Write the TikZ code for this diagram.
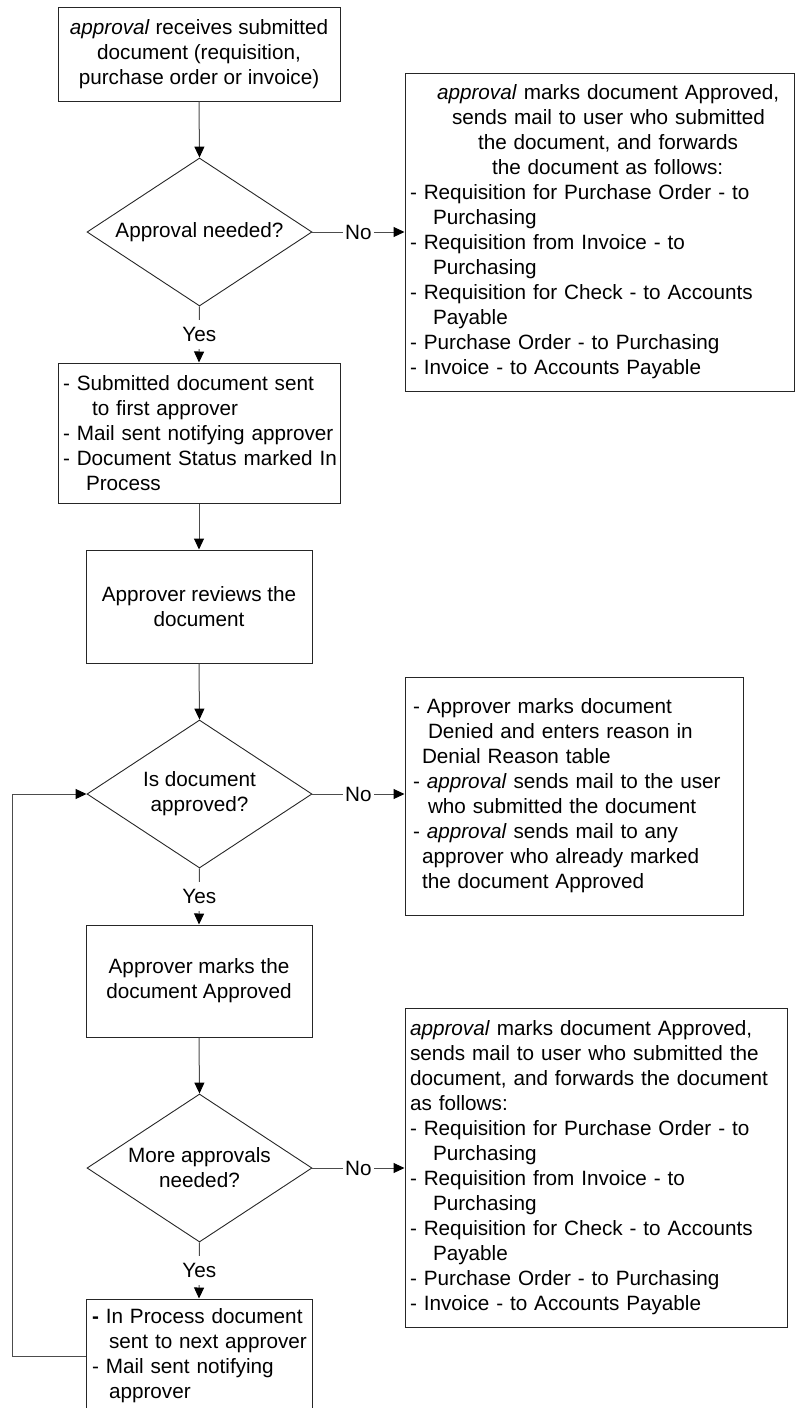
\documentclass[tikz,border=0pt]{standalone}
\usepackage{fontspec}
\setmainfont{Liberation Sans}
\usetikzlibrary{shapes.geometric,arrows.meta}
\newcommand\oneline[1]{\mbox{#1}}
\begin{document}
\begin{tikzpicture}[x=1pt,y=-1pt,
  every node/.style={font=\fontsize{20.7}{25}\selectfont},
  stepbox/.style={draw=black!85,line width=1pt,rectangle,inner ysep=0pt},
  centerbox/.style={stepbox,align=center,inner xsep=0pt},
  listbox/.style={stepbox,align=left},
  decision/.style={draw=black!85,line width=0.9pt,diamond,aspect=1.52,
    inner sep=0pt,minimum width=225pt,minimum height=148pt,align=center},
  flow/.style={draw=black!70,line width=1pt,
    -{Triangle[length=11pt,width=10pt,color=black]}},
  tag/.style={fill=white,inner xsep=2.5pt,inner ysep=7pt}]
\useasboundingbox (0,0) rectangle (795,1408);

% main column
\node[centerbox,minimum width=282pt,minimum height=94pt] (start) at (199,54)
  {\textit{approval} receives submitted\\document (requisition,\\purchase order or invoice)};
\node[decision] (need) at (199.5,232) {Approval needed?};
\node[listbox,inner xsep=5pt,text width=272pt,minimum height=140pt] (first) at (199,433)
  {\oneline{- Submitted document sent}\\
   \oneline{\hspace*{29pt}to first approver}\\
   \oneline{- Mail sent notifying approver}\\
   \oneline{- Document Status marked In}\\
   \oneline{\hspace*{23pt}Process}};
\node[centerbox,minimum width=226pt,minimum height=113pt] (review) at (199,606.5)
  {Approver reviews the\\document};
\node[decision] (isok) at (199.5,794) {Is document\\approved?};
\node[centerbox,minimum width=226pt,minimum height=112pt] (marks) at (199,981)
  {Approver marks the\\document Approved};
\node[decision] (more) at (199.5,1168) {More approvals\\needed?};
\node[listbox,inner xsep=6pt,text width=214pt,minimum height=114pt] (next) at (199,1356)
  {\oneline{\textbf{-} In Process document}\\
   \oneline{\hspace*{17pt}sent to next approver}\\
   \oneline{- Mail sent notifying}\\
   \oneline{\hspace*{17pt}approver}};

% outcome boxes
\node[listbox,inner xsep=5pt,text width=379pt,minimum height=318pt] (noneed) at (599.5,232)
  {\oneline{\hspace*{27pt}\textit{approval} marks document Approved,}\\
   \oneline{\hspace*{42pt}sends mail to user who submitted}\\
   \oneline{\hspace*{68pt}the document, and forwards}\\
   \oneline{\hspace*{82pt}the document as follows:}\\
   \oneline{- Requisition for Purchase Order - to}\\
   \oneline{\hspace*{23pt}Purchasing}\\
   \oneline{- Requisition from Invoice - to}\\
   \oneline{\hspace*{23pt}Purchasing}\\
   \oneline{- Requisition for Check - to Accounts}\\
   \oneline{\hspace*{23pt}Payable}\\
   \oneline{- Purchase Order - to Purchasing}\\
   \oneline{- Invoice - to Accounts Payable}};
\node[listbox,inner xsep=8pt,text width=322pt,minimum height=238pt] (denied) at (574,796)
  {\oneline{- Approver marks document}\\
   \oneline{\hspace*{15pt}Denied and enters reason in}\\
   \oneline{\hspace*{9pt}Denial Reason table}\\
   \oneline{- \textit{approval} sends mail to the user}\\
   \oneline{\hspace*{15pt}who submitted the document}\\
   \oneline{- \textit{approval} sends mail to any}\\
   \oneline{\hspace*{9pt}approver who already marked}\\
   \oneline{\hspace*{9pt}the document Approved}};
\node[listbox,inner xsep=5pt,text width=372pt,minimum height=319pt] (done) at (596,1167.5)
  {\oneline{\textit{approval} marks document Approved,}\\
   \oneline{sends mail to user who submitted the}\\
   \oneline{document, and forwards the document}\\
   \oneline{as follows:}\\
   \oneline{- Requisition for Purchase Order - to}\\
   \oneline{\hspace*{23pt}Purchasing}\\
   \oneline{- Requisition from Invoice - to}\\
   \oneline{\hspace*{23pt}Purchasing}\\
   \oneline{- Requisition for Check - to Accounts}\\
   \oneline{\hspace*{23pt}Payable}\\
   \oneline{- Purchase Order - to Purchasing}\\
   \oneline{- Invoice - to Accounts Payable}};

\coordinate (loop) at (12,1356);

% connectors
\draw[flow] (start.south) -- (need.north);
\draw[flow] (need.south) -- node[tag]{Yes} (first.north);
\draw[flow] (need.east) -- node[tag]{No} (need.east -| noneed.west);
\draw[flow] (first.south) -- (review.north);
\draw[flow] (review.south) -- (isok.north);
\draw[flow] (isok.south) -- node[tag]{Yes} (marks.north);
\draw[flow] (isok.east) -- node[tag]{No} (isok.east -| denied.west);
\draw[flow] (marks.south) -- (more.north);
\draw[flow] (more.south) -- node[tag]{Yes} (next.north);
\draw[flow] (more.east) -- node[tag]{No} (more.east -| done.west);
\draw[flow] (next.west) -- (next.west -| loop) -- (loop |- isok.west) -- (isok.west);
\end{tikzpicture}
\end{document}
